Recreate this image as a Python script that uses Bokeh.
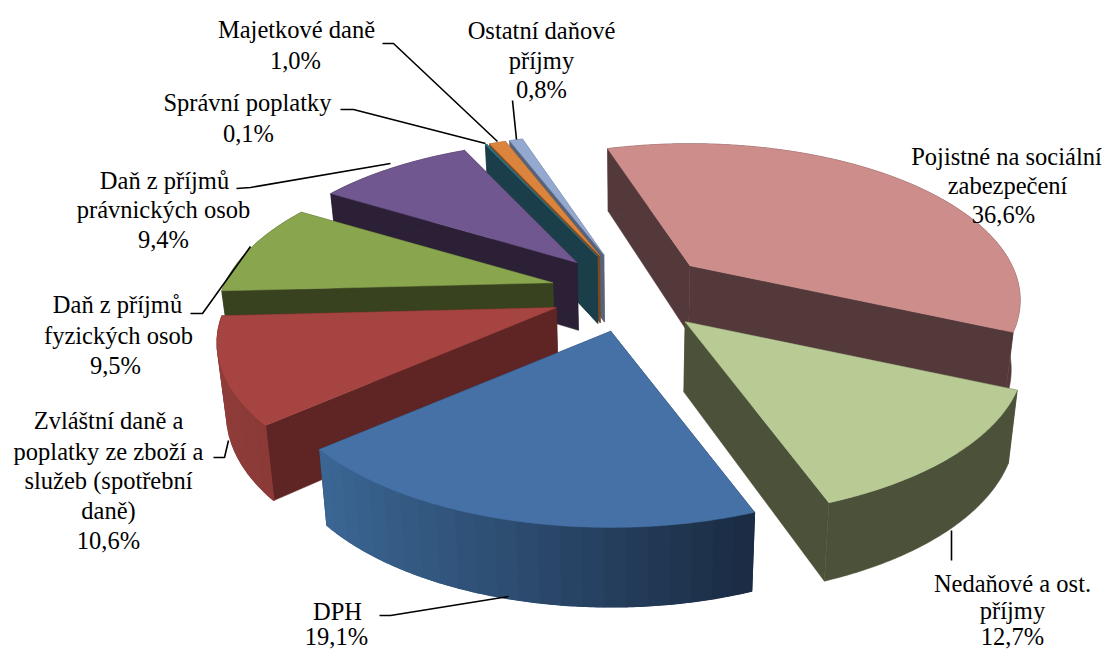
import math
from bokeh.plotting import figure
from bokeh.models import Range1d
from bokeh.core.properties import value
from bokeh.embed import file_html
from bokeh.resources import INLINE

# ---- data ----
categories = ["Pojistné na sociální zabezpečení", "Nedaňové a ost. příjmy", "DPH",
              "Zvláštní daně a poplatky ze zboží a služeb (spotřební daně)",
              "Daň z příjmů fyzických osob", "Daň z příjmů právnických osob",
              "Správní poplatky", "Majetkové daně", "Ostatní daňové příjmy"]
shares = [36.6, 12.7, 19.1, 10.6, 9.5, 9.4, 0.1, 1.0, 0.8]

# ---- styles ----
top_colors = ["#CD8D8B", "#B8CB94", "#4671A7", "#A54441", "#89A54E", "#71578F",
              "#2B7A8C", "#DB843D", "#93A9CF"]
side_colors = ["#54393A", "#4C5239", "#1B2C42", "#5F2524", "#38421E", "#2B2036",
               "#1A3F4A", "#7A4A22", "#56637A"]
arc_left = ["#54393A", "#4C5239", "#3B6694", "#8F3D3A", "#38421E", "#2B2036",
            "#1A3F4A", "#7A4A22", "#56637A"]
arc_right = ["#54393A", "#4C5239", "#1A2B42", "#8A3A37", "#38421E", "#2B2036",
             "#1A3F4A", "#7A4A22", "#56637A"]

# ---- layout of texts and leader lines ----
label_lines = [
    (1006, 156, "Pojistné na sociální"), (1007, 185, "zabezpečení"), (1003, 214, "36,6%"),
    (1012, 583, "Nedaňové a ost."), (1012, 610, "příjmy"), (1012, 636, "12,7%"),
    (337, 611, "DPH"), (336, 636, "19,1%"),
    (108, 420, "Zvláštní daně a"), (108, 451, "poplatky ze zboží a"),
    (108, 480, "služeb (spotřební"), (108, 510, "daně)"), (108, 540, "10,6%"),
    (117, 304, "Daň z příjmů"), (118, 335, "fyzických osob"), (115, 365, "9,5%"),
    (164, 180, "Daň z příjmů"), (163, 209, "právnických osob"), (163, 239, "9,4%"),
    (247, 102, "Správní poplatky"), (248, 133, "0,1%"),
    (296, 29, "Majetkové daně"), (295, 60, "1,0%"),
    (541, 30, "Ostatní daňové"), (541, 60, "příjmy"), (541, 89, "0,8%"),
]
leaders = [
    ([382, 393, 497], [43, 43, 141]),
    ([512, 516], [100, 139]),
    ([340, 353, 485], [109, 109, 143]),
    ([236, 250, 390], [188, 187, 163]),
    ([190, 202, 250], [313, 313, 246]),
    ([213, 224, 228], [457, 457, 440]),
    ([379, 390, 508], [615, 615, 596]),
    ([951, 951], [530, 560]),
]

# ---- projection of the tilted pie ----
CX, CY = 630, 292
A, B, K = 331, 153, 0.22
EXPLODE_X, EXPLODE_Y = 80, 40
START = -18.0
DEPTH0, DEPTH_SLOPE, SHRINK = 69, 0.045, 0.977
BACK_SCALE = 0.001


def rim(theta):
    t = math.radians(theta)
    u, v = math.sin(t), -math.cos(t)
    w = 1 - K * v
    return A * u / w, B * v / w


def offset(theta):
    t = math.radians(theta)
    return EXPLODE_X * math.sin(t), -EXPLODE_Y * math.cos(t)


def lower(pt):
    x, y = pt
    return CX + (x - CX) * SHRINK, y + DEPTH0 + DEPTH_SLOPE * (y - CY)


def mix(c1, c2, f):
    a = [int(c1[i:i + 2], 16) for i in (1, 3, 5)]
    b = [int(c2[i:i + 2], 16) for i in (1, 3, 5)]
    return "#%02X%02X%02X" % tuple(round(p + (q - p) * f) for p, q in zip(a, b))


total = sum(shares)
slices = []
angle = START
for i, s in enumerate(shares):
    span = s / total * 360
    slices.append((i, angle, angle + span))
    angle += span

p = figure(width=1106, height=649, x_range=Range1d(0, 1106), y_range=Range1d(649, 0),
           output_backend="svg", toolbar_location=None, min_border=0,
           x_axis_location=None, y_axis_location=None, outline_line_color=None,
           background_fill_color="white", border_fill_color="white")
p.xgrid.visible = False
p.ygrid.visible = False

order = [8, 7, 6, 5, 4, 0, 3, 1, 2]
for i in order:
    _, a0, a1 = slices[i]
    ox, oy = offset((a0 + a1) / 2)
    apex = (CX + ox, CY + oy)
    scale = 1 + BACK_SCALE * min(oy, 0)  # slices pushed backwards look smaller
    n = max(2, int((a1 - a0) / 0.5))
    ring = []
    for j in range(n + 1):
        th = a0 + (a1 - a0) * j / n
        rx, ry = rim(th)
        ring.append((apex[0] + rx * scale, apex[1] + ry * scale))
    for edge in (ring[0], ring[-1]):
        quad = [apex, edge, lower(edge), lower(apex)]
        p.patch([q[0] for q in quad], [q[1] for q in quad], fill_color=side_colors[i],
                line_color=side_colors[i], line_width=0.5)
    bottom = [lower(q) for q in ring]
    wall = ring + bottom[::-1]
    p.patch([q[0] for q in wall], [q[1] for q in wall],
            fill_color=mix(arc_left[i], arc_right[i], 0.5),
            line_color=mix(arc_left[i], arc_right[i], 0.5), line_width=0.5)
    if arc_left[i] != arc_right[i]:
        xmin = min(q[0] for q in ring)
        xmax = max(q[0] for q in ring)
        step = 6
        xs, ys, cols = [], [], []
        for j in range(0, n, step):
            k = min(j + step, n)
            top_part = ring[j:k + 1]
            bot_part = bottom[j:k + 1]
            band = top_part + bot_part[::-1]
            xs.append([q[0] for q in band])
            ys.append([q[1] for q in band])
            f = ((top_part[0][0] + top_part[-1][0]) / 2 - xmin) / max(xmax - xmin, 1)
            cols.append(mix(arc_left[i], arc_right[i], f))
        p.patches(xs, ys, fill_color=cols, line_color=cols, line_width=1.2)
    p.patch([apex[0]] + [q[0] for q in ring], [apex[1]] + [q[1] for q in ring],
            fill_color=top_colors[i], line_color=top_colors[i], line_width=0.5)

for lx, ly in leaders:
    p.line(lx, ly, line_color="black", line_width=1.6)

p.text([l[0] for l in label_lines], [l[1] for l in label_lines], text=[l[2] for l in label_lines],
       text_font=value("Liberation Serif"), text_font_size="24.5px", text_color="black",
       text_align="center", text_baseline="middle")

open("out.html", "w").write(file_html(p, INLINE))
